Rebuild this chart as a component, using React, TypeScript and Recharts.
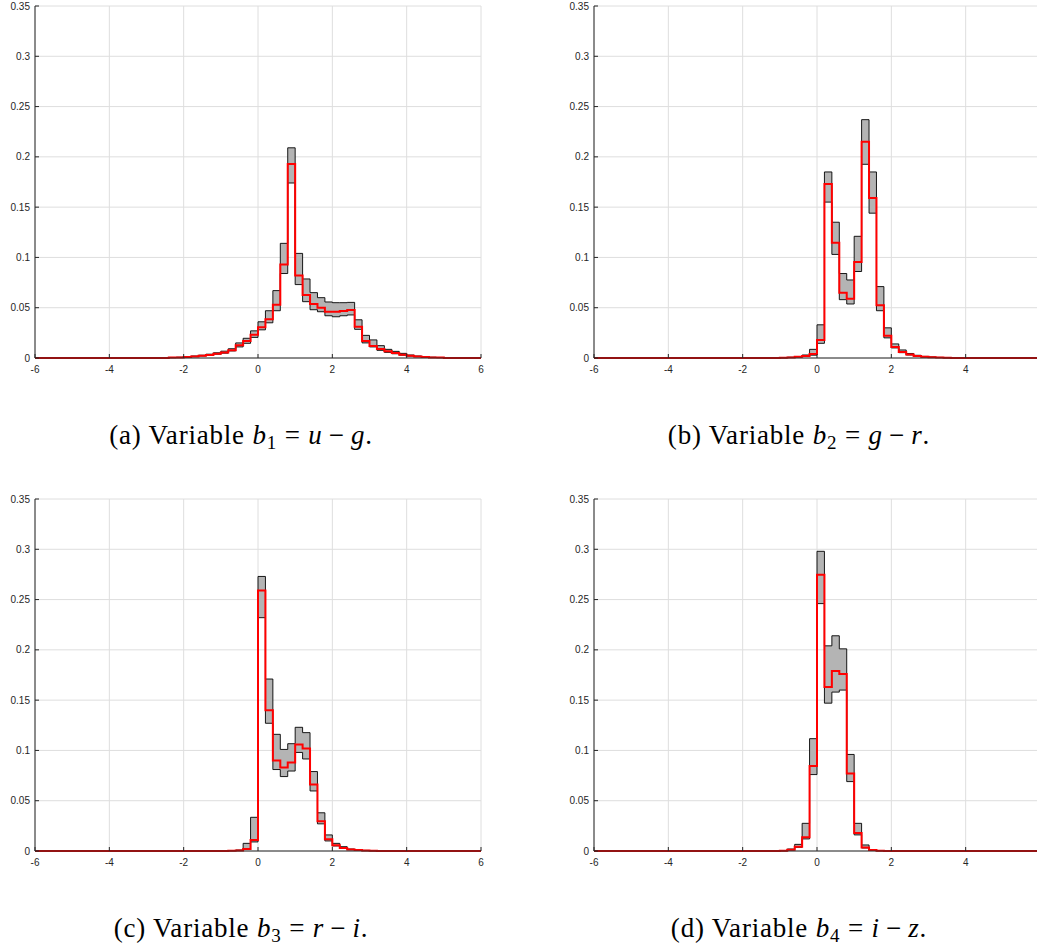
import React from 'react';
import { ComposedChart, Area, Line, XAxis, YAxis, CartesianGrid } from 'recharts';

const xTicks = [-6, -4, -2, 0, 2, 4, 6];
const xTicksCropped = [-6, -4, -2, 0, 2, 4];
const yTicks = [0, 0.05, 0.1, 0.15, 0.2, 0.25, 0.3, 0.35];

// Panel (a): b1 = u-g  (bin left edges, width 0.2)
const aBins = [-2.4, -2.2, -2.0, -1.8, -1.6, -1.4, -1.2, -1.0, -0.8, -0.6, -0.4, -0.2, 0.0, 0.2, 0.4, 0.6, 0.8, 1.0, 1.2, 1.4, 1.6, 1.8, 2.0, 2.2, 2.4, 2.6, 2.8, 3.0, 3.2, 3.4, 3.6, 3.8, 4.0, 4.2, 4.4, 4.6, 4.8];
const aUpper = [0.0005, 0.0008, 0.0013, 0.002, 0.0028, 0.0038, 0.0052, 0.0068, 0.0092, 0.015, 0.0196, 0.027, 0.036, 0.047, 0.067, 0.114, 0.209, 0.104, 0.0786, 0.065, 0.06, 0.0557, 0.055, 0.055, 0.0553, 0.038, 0.0225, 0.018, 0.0123, 0.0086, 0.0066, 0.0046, 0.003, 0.002, 0.0012, 0.0008, 0.0005];
const aMid = [0.0004, 0.0006, 0.001, 0.0016, 0.0023, 0.0031, 0.0043, 0.0055, 0.0078, 0.0126, 0.017, 0.023, 0.0305, 0.0385, 0.053, 0.093, 0.193, 0.082, 0.0626, 0.0537, 0.05, 0.046, 0.046, 0.0467, 0.0477, 0.031, 0.017, 0.012, 0.009, 0.0066, 0.005, 0.0033, 0.0022, 0.0015, 0.001, 0.0006, 0.0004];
const aLower = [0.0003, 0.0005, 0.0009, 0.0014, 0.002, 0.0028, 0.0038, 0.0048, 0.007, 0.011, 0.0146, 0.0205, 0.028, 0.035, 0.047, 0.084, 0.174, 0.073, 0.056, 0.048, 0.046, 0.042, 0.041, 0.042, 0.0428, 0.0285, 0.015, 0.011, 0.0076, 0.0056, 0.0042, 0.0028, 0.0019, 0.0013, 0.0008, 0.0005, 0.0003];

// Panel (b): b2 = g-r
const bBins = [-1.0, -0.8, -0.6, -0.4, -0.2, 0.0, 0.2, 0.4, 0.6, 0.8, 1.0, 1.2, 1.4, 1.6, 1.8, 2.0, 2.2, 2.4, 2.6, 2.8, 3.0, 3.2, 3.4];
const bUpper = [0.0004, 0.0008, 0.0014, 0.003, 0.0086, 0.033, 0.185, 0.135, 0.084, 0.0776, 0.121, 0.237, 0.185, 0.071, 0.03, 0.014, 0.008, 0.0045, 0.0027, 0.0016, 0.001, 0.0006, 0.0003];
const bMid = [0.0003, 0.0006, 0.0012, 0.002, 0.004, 0.018, 0.173, 0.1147, 0.065, 0.059, 0.0955, 0.215, 0.159, 0.0524, 0.022, 0.011, 0.006, 0.0035, 0.002, 0.0012, 0.0008, 0.0005, 0.0002];
const bLower = [0.0002, 0.0005, 0.001, 0.0016, 0.0028, 0.0146, 0.155, 0.103, 0.058, 0.0537, 0.086, 0.1926, 0.144, 0.047, 0.02, 0.01, 0.0053, 0.003, 0.0018, 0.001, 0.0007, 0.0004, 0.0002];

// Panel (c): b3 = r-i
const cBins = [-0.8, -0.6, -0.4, -0.2, 0.0, 0.2, 0.4, 0.6, 0.8, 1.0, 1.2, 1.4, 1.6, 1.8, 2.0, 2.2, 2.4, 2.6, 2.8, 3.0];
const cUpper = [0.0005, 0.001, 0.0076, 0.0335, 0.273, 0.171, 0.116, 0.101, 0.1067, 0.123, 0.1177, 0.079, 0.038, 0.016, 0.0076, 0.0043, 0.002, 0.0012, 0.0006, 0.0003];
const cMid = [0.0003, 0.0006, 0.002, 0.011, 0.259, 0.14, 0.09, 0.083, 0.088, 0.106, 0.1018, 0.066, 0.0295, 0.0116, 0.0056, 0.003, 0.0015, 0.0009, 0.0004, 0.0002];
const cLower = [0.0002, 0.0004, 0.0015, 0.009, 0.232, 0.127, 0.081, 0.074, 0.0795, 0.098, 0.0915, 0.0597, 0.027, 0.01, 0.005, 0.0027, 0.0013, 0.0008, 0.0003, 0.0002];

// Panel (d): b4 = i-z
const dBins = [-1.0, -0.8, -0.6, -0.4, -0.2, 0.0, 0.2, 0.4, 0.6, 0.8, 1.0, 1.2, 1.4, 1.6, 1.8];
const dUpper = [0.0004, 0.002, 0.0066, 0.0275, 0.1117, 0.298, 0.204, 0.214, 0.201, 0.096, 0.0275, 0.006, 0.0013, 0.0005, 0.0002];
const dMid = [0.0003, 0.0012, 0.0043, 0.0136, 0.0845, 0.2748, 0.163, 0.179, 0.176, 0.077, 0.018, 0.0036, 0.001, 0.0003, 0.0001];
const dLower = [0.0002, 0.001, 0.0037, 0.012, 0.076, 0.246, 0.147, 0.158, 0.16, 0.069, 0.016, 0.003, 0.0008, 0.0002, 0.0001];

const captionLabels = ['a', 'b', 'c', 'd'];
const captionSubs = ['1', '2', '3', '4'];
const captionLeft = ['u', 'g', 'r', 'i'];
const captionRight = ['g', 'r', 'i', 'z'];

const BIN_WIDTH = 0.2;
const X_MIN = -6;
const X_MAX = 6;

type Row = { x: number; band: [number, number]; mid: number };

function buildData(bins: number[], lower: number[], upper: number[], mid: number[]): Row[] {
  const rows: Row[] = [{ x: X_MIN, band: [0, 0], mid: 0 }];
  bins.forEach((b, i) => rows.push({ x: b, band: [lower[i], upper[i]], mid: mid[i] }));
  rows.push({ x: bins[bins.length - 1] + BIN_WIDTH, band: [0, 0], mid: 0 });
  rows.push({ x: X_MAX, band: [0, 0], mid: 0 });
  return rows;
}

const AXIS = '#262626';
const GRID = '#dedede';
const PLOT_W = 446;
const PLOT_H = 352;
const Y_AXIS_W = 35;
const MARGIN_TOP = 6;
const CHART_W = 500;
const CHART_H = 392;

const tickStyle = { fill: AXIS, fontSize: 10, fontFamily: "'Liberation Sans', Arial, sans-serif" };

function Panel({ data, left, top, labelTicks }: { data: Row[]; left: number; top: number; labelTicks: number[] }) {
  return (
    <div style={{ position: 'absolute', left: left - Y_AXIS_W, top: top - MARGIN_TOP }}>
      <ComposedChart
        width={CHART_W}
        height={CHART_H}
        data={data}
        margin={{ top: MARGIN_TOP, right: CHART_W - Y_AXIS_W - PLOT_W, bottom: CHART_H - MARGIN_TOP - PLOT_H - 30, left: 0 }}
      >
        <CartesianGrid stroke={GRID} strokeWidth={1} verticalPoints={undefined} />
        <XAxis
          dataKey="x"
          type="number"
          domain={[X_MIN, X_MAX]}
          ticks={labelTicks}
          interval={0}
          height={30}
          tick={tickStyle}
          tickSize={-4}
          tickMargin={12}
          axisLine={{ stroke: AXIS }}
          tickLine={{ stroke: AXIS }}
        />
        <XAxis
          xAxisId="top"
          orientation="top"
          dataKey="x"
          type="number"
          domain={[X_MIN, X_MAX]}
          ticks={xTicks}
          interval={0}
          height={0}
          tick={false}
          tickSize={-4}
          axisLine={{ stroke: AXIS }}
          tickLine={{ stroke: AXIS }}
        />
        <YAxis
          type="number"
          domain={[0, 0.35]}
          ticks={yTicks}
          interval={0}
          width={Y_AXIS_W}
          tick={tickStyle}
          tickSize={-4}
          tickMargin={9}
          axisLine={{ stroke: AXIS }}
          tickLine={{ stroke: AXIS }}
        />
        <YAxis
          yAxisId="right"
          orientation="right"
          type="number"
          domain={[0, 0.35]}
          ticks={yTicks}
          interval={0}
          width={0}
          tick={false}
          tickSize={-4}
          axisLine={{ stroke: AXIS }}
          tickLine={{ stroke: AXIS }}
        />
        <Area
          type="stepAfter"
          dataKey="band"
          stroke="#000000"
          strokeWidth={0.9}
          fill="#b4b4b4"
          fillOpacity={1}
          dot={false}
          activeDot={false}
          isAnimationActive={false}
        />
        <Line
          type="stepAfter"
          dataKey="mid"
          stroke="#ff0000"
          strokeWidth={2}
          dot={false}
          activeDot={false}
          isAnimationActive={false}
        />
      </ComposedChart>
    </div>
  );
}

function Caption({ i, cx, y }: { i: number; cx: number; y: number }) {
  return (
    <text
      x={cx}
      y={y}
      textAnchor="middle"
      fontFamily="'Liberation Serif', 'Times New Roman', serif"
      fontSize={27}
      letterSpacing={0.8}
      fill="#000"
    >
      <tspan>{`(${captionLabels[i]}) Variable `}</tspan>
      <tspan fontStyle="italic">b</tspan>
      <tspan fontSize={19} dy={5}>{captionSubs[i]}</tspan>
      <tspan dy={-5}>{'\u00a0=\u00a0'}</tspan>
      <tspan fontStyle="italic">{captionLeft[i]}</tspan>
      <tspan>{'\u2009\u2212\u2009'}</tspan>
      <tspan fontStyle="italic">{captionRight[i]}</tspan>
      <tspan>.</tspan>
    </text>
  );
}

export default function App() {
  const dataA = buildData(aBins, aLower, aUpper, aMid);
  const dataB = buildData(bBins, bLower, bUpper, bMid);
  const dataC = buildData(cBins, cLower, cUpper, cMid);
  const dataD = buildData(dBins, dLower, dUpper, dMid);
  return (
    <div style={{ position: 'absolute', left: 0, top: 0, width: 1037, height: 947, overflow: 'hidden', background: '#fff' }}>
      <Panel data={dataA} left={35} top={6} labelTicks={xTicks} />
      <Panel data={dataB} left={594} top={6} labelTicks={xTicksCropped} />
      <Panel data={dataC} left={35} top={499} labelTicks={xTicks} />
      <Panel data={dataD} left={594} top={499} labelTicks={xTicksCropped} />
      <svg width={1037} height={947} style={{ position: 'absolute', left: 0, top: 0, pointerEvents: 'none' }}>
        <Caption i={0} cx={241} y={444} />
        <Caption i={1} cx={799} y={444} />
        <Caption i={2} cx={241} y={937} />
        <Caption i={3} cx={799} y={937} />
      </svg>
    </div>
  );
}
